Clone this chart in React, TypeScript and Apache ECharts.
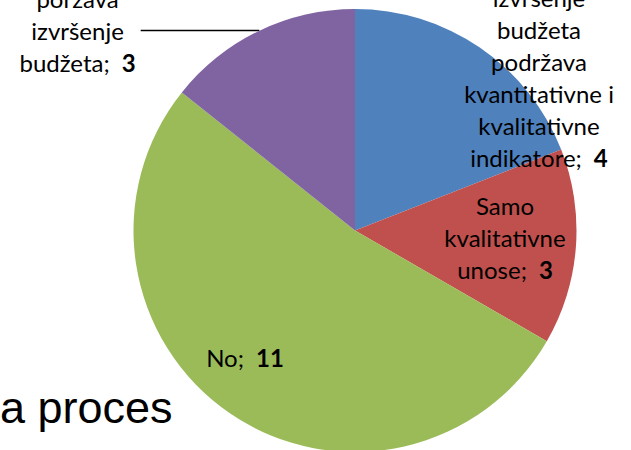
import React, { useEffect, useRef } from "react";
import * as echarts from "echarts";

// ---- data ----
const categories = [
  "izvršenje\nbudžeta\npodržava\nkvantitativne i\nkvalitativne\nindikatore",
  "Samo\nkvalitativne\nunose",
  "No",
  "porzava\nizvršenje\nbudžeta",
];
const values = [4, 3, 11, 3];
const sliceColors = ["#4F81BD", "#C0504D", "#9BBB59", "#8064A2"];
const backgroundText = "a proces";

// label anchor spots (top-centre of each inside label block); purple uses the pie's own outside layout
const labelSpots: (number[] | null)[] = [[539, -19], [505, 189], [245, 341], null];

const LABEL_FONT = "Lato, 'Open Sans', sans-serif";

function formatLabel(p: any) {
  const lines = String(p.name).split("\n");
  const out = lines.map((l, i) =>
    i === lines.length - 1 ? `{n|${l};}{b|${p.value}}` : `{n|${l}}`
  );
  return out.join("\n");
}

export default function App() {
  const ref = useRef<HTMLDivElement>(null);
  useEffect(() => {
    if (!ref.current) return;
    const chart = echarts.init(ref.current, null, { renderer: "svg" });
    chart.setOption({
      animation: false,
      backgroundColor: "#ffffff",
      graphic: [
        {
          type: "text",
          left: 0,
          top: 385,
          style: {
            text: backgroundText,
            font: "45px 'Liberation Sans', Arial, sans-serif",
            fill: "#000",
          },
        },
      ],
      series: [
        {
          type: "pie",
          center: [355, 230.5],
          radius: 221.5,
          startAngle: 90,
          clockwise: true,
          avoidLabelOverlap: false,
          itemStyle: { borderWidth: 0 },
          data: categories.map((name, i) => ({
            name,
            value: values[i],
            itemStyle: { color: sliceColors[i] },
            label:
              i === 3
                ? { position: "outside", distanceToLabelLine: 5 }
                : { position: "inside" },
            labelLine:
              i === 3
                ? { show: true, length: 0.5, length2: 118, lineStyle: { color: "#000", width: 1.5 } }
                : { show: false },
          })),
          label: {
            show: true,
            color: "#000",
            formatter: formatLabel,
            rich: {
              n: { fontFamily: LABEL_FONT, fontSize: 24, lineHeight: 32, color: "#000", align: "center" },
              b: {
                fontFamily: LABEL_FONT,
                fontSize: 24,
                lineHeight: 32,
                fontWeight: "bold",
                color: "#000",
                align: "center",
                padding: [0, 0, 0, 12],
              },
            },
          },
          labelLayout: (params: any) => {
            const s = labelSpots[params.dataIndex];
            if (!s) return {};
            return { x: s[0], y: s[1], align: "center", verticalAlign: "top" };
          },
          emphasis: { disabled: true },
        },
      ],
    });
    return () => chart.dispose();
  }, []);
  return (
    <div
      ref={ref}
      style={{ position: "absolute", left: 0, top: 0, width: 631, height: 450 }}
    />
  );
}
